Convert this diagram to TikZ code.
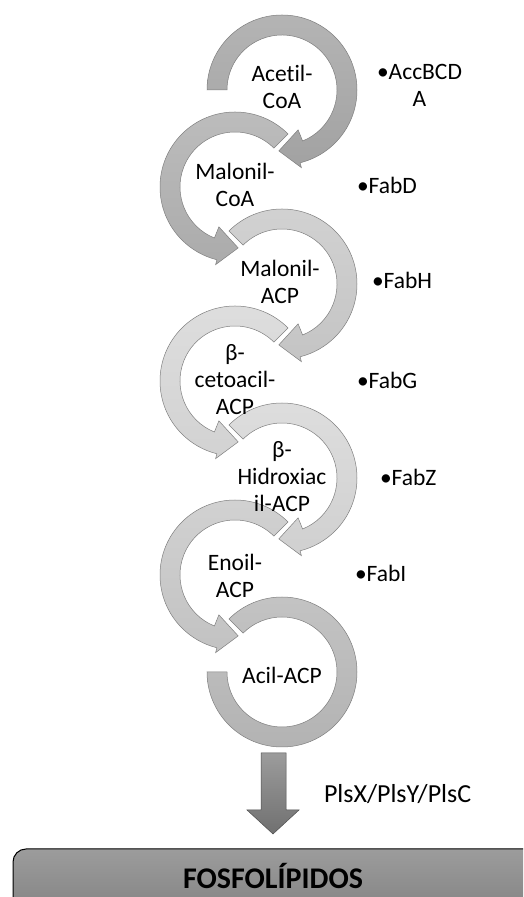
\documentclass[tikz,border=0pt]{standalone}
\usepackage{fontspec}
\setmainfont{Carlito}[Ligatures=NoCommon]
\definecolor{ringline}{HTML}{7F7F7F}
\definecolor{arrowline}{HTML}{4D4D4D}
\definecolor{gA}{HTML}{B4B4B4}\definecolor{gAd}{HTML}{A2A2A2}
\definecolor{gB}{HTML}{BDBDBD}\definecolor{gBd}{HTML}{ABABAB}
\definecolor{gC}{HTML}{D2D2D2}\definecolor{gCd}{HTML}{C4C4C4}
\definecolor{gD}{HTML}{DEDEDE}\definecolor{gDd}{HTML}{D2D2D2}
\definecolor{gE}{HTML}{DEDEDE}\definecolor{gEd}{HTML}{D0D0D0}
\definecolor{gF}{HTML}{D2D2D2}\definecolor{gFd}{HTML}{C2C2C2}
\definecolor{gG}{HTML}{C4C4C4}\definecolor{gGd}{HTML}{B2B2B2}
\definecolor{blockTop}{HTML}{9C9C9C}\definecolor{blockBot}{HTML}{707070}
\definecolor{boxTop}{HTML}{9C9C9C}\definecolor{boxBot}{HTML}{7E7E7E}

% ring turning clockwise, head at the bottom: centre, start angle, top and bottom colour
\newcommand{\cwring}[4]{%
  \begin{scope}[shift={(#1)}]
    \draw[ring,top color=#3,bottom color=#4]
      (#2:75) arc[start angle=#2,end angle=-76,radius=75]
      -- (-76:80) -- (-93:61) -- (-68:43) -- (-68:55)
      arc[start angle=-68,end angle=#2,radius=55] -- cycle;
  \end{scope}}
% ring turning anticlockwise, head at the bottom
\newcommand{\ccwring}[4]{%
  \begin{scope}[shift={(#1)}]
    \draw[ring,top color=#3,bottom color=#4]
      (#2:75) arc[start angle=#2,end angle=256,radius=75]
      -- (256:80) -- (273:61) -- (248:43) -- (248:55)
      arc[start angle=248,end angle=#2,radius=55] -- cycle;
  \end{scope}}

\begin{document}
\begin{tikzpicture}[x=1pt,y=1pt,
    every node/.style={inner sep=0pt,outer sep=0pt,
      font=\fontsize{23.5}{27}\selectfont},
    ring/.style={draw=ringline,line width=0.5pt},
    steptext/.style={align=center},
    enzyme/.style={anchor=west}]
  \useasboundingbox (0,0) rectangle (523,897);
  \clip (0,0) rectangle (523,897);

  % last ring has no head
  \begin{scope}[shift={(282,225)}]
    \draw[ring,top color=gG,bottom color=gGd]
      (135:75) arc[start angle=135,end angle=-180,radius=75]
      -- (180:55) arc[start angle=-180,end angle=135,radius=55] -- cycle;
  \end{scope}
  \ccwring{235,322}{45}{gF}{gFd}
  \cwring{282,419}{135}{gE}{gEd}
  \ccwring{235,516}{45}{gD}{gDd}
  \cwring{282,613}{135}{gC}{gCd}
  \ccwring{235,710}{45}{gB}{gBd}
  \cwring{282,807}{180}{gA}{gAd}

  \node[steptext] at(282,810)(acetil){Acetil-\\CoA};
  \node[steptext] at(235,712)(malcoa){Malonil-\\CoA};
  \node[steptext] at(280,615)(malacp){Malonil-\\ACP};
  \node[steptext] at(235,517)(ceto){β-\\cetoacil-\\ACP};
  \node[steptext] at(282,420)(hidroxi){β-\\Hidroxiac\\il-ACP};
  \node[steptext] at(235,321)(enoil){Enoil-\\ACP};
  \node[steptext] at(282,222)(acil){Acil-ACP};

  \node[enzyme,align=center] at(377,812)(accb){\textbullet AccBCD\\A};
  \node[enzyme] at(357,712)(fabd){\textbullet FabD};
  \node[enzyme] at(372,617)(fabh){\textbullet FabH};
  \node[enzyme] at(357,517)(fabg){\textbullet FabG};
  \node[enzyme] at(380,420)(fabz){\textbullet FabZ};
  \node[enzyme] at(355,324)(fabi){\textbullet FabI};

  % block arrow down to the lipids
  \draw[draw=arrowline,line width=0.5pt,top color=blockTop,bottom color=blockBot]
    (261,144) -- (286,144) -- (286,87) -- (299,87) -- (273,63)
    -- (247,87) -- (261,87) -- cycle;
  \node[anchor=base west,font=\fontsize{26}{30}\selectfont] at(324,94)(plsx){PlsX/PlsY/PlsC};

  \draw[black,line width=1pt,rounded corners=13pt,top color=boxTop,bottom color=boxBot]
    (13,-30) rectangle (560,48);
  \node[anchor=base,font=\fontsize{30}{34}\selectfont\bfseries] at(273,9)(fosfo){FOSFOLÍPIDOS};
\end{tikzpicture}
\end{document}
